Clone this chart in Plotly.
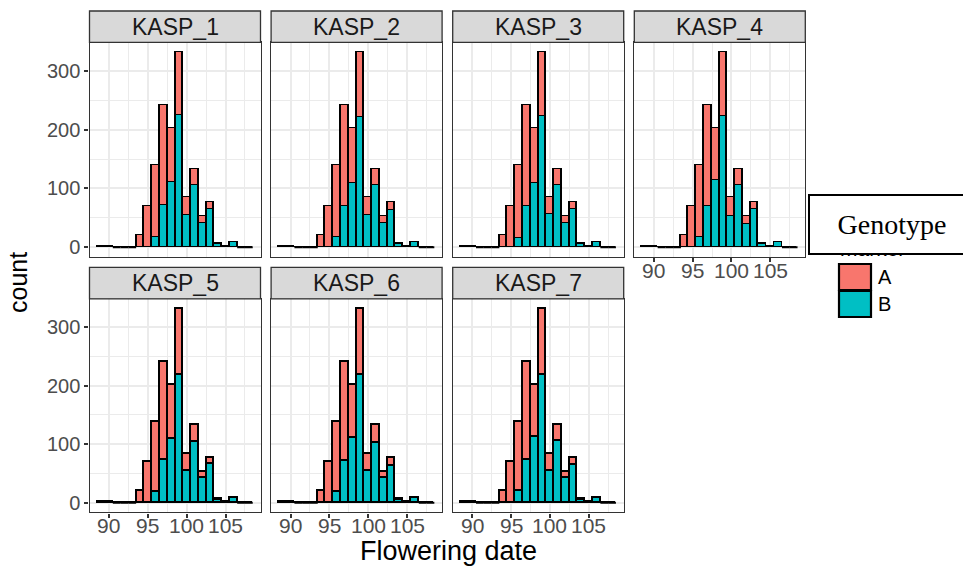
import plotly.graph_objects as go

# ---------------- data ----------------
panels = ["KASP_1", "KASP_2", "KASP_3", "KASP_4", "KASP_5", "KASP_6", "KASP_7"]
dates = [89, 90, 91, 92, 93, 94, 95, 96, 97, 98, 99, 100, 101, 102, 103, 104, 105, 106, 107, 108]
total = [1, 1, 0, 0, 0, 21, 70, 139, 241, 202, 331, 84, 133, 52, 77, 7, 2, 8, 0, 0]

kasp1_B = [0, 0, 0, 0, 0, 0, 0, 17, 71, 110, 224, 55, 106, 41, 65, 5, 1, 8, 0, 0]
kasp2_B = [0, 0, 0, 0, 0, 0, 0, 16, 69, 108, 221, 55, 106, 40, 62, 5, 1, 8, 0, 0]
kasp3_B = [0, 0, 0, 0, 0, 0, 0, 15, 70, 109, 222, 56, 106, 41, 64, 5, 1, 8, 0, 0]
kasp4_B = [0, 0, 0, 0, 0, 0, 0, 17, 69, 113, 223, 53, 106, 39, 64, 5, 1, 8, 0, 0]
kasp5_B = [0, 0, 0, 0, 0, 0, 0, 19, 73, 109, 218, 55, 104, 42, 67, 5, 1, 8, 0, 0]
kasp6_B = [0, 0, 0, 0, 0, 0, 0, 19, 72, 111, 219, 54, 103, 42, 63, 5, 1, 8, 0, 0]
kasp7_B = [0, 0, 0, 0, 0, 0, 0, 20, 73, 112, 219, 54, 105, 42, 64, 5, 1, 8, 0, 0]
B_series = [kasp1_B, kasp2_B, kasp3_B, kasp4_B, kasp5_B, kasp6_B, kasp7_B]

x_ticks = [90, 95, 100, 105]
y_ticks = [0, 100, 200, 300]
genotypes = ["A", "B"]

# ---------------- styling ----------------
W, H = 963, 567
COL_A = "#F8766D"
COL_B = "#00BFC4"
BORDER = "#333333"
GRID = "#EBEBEB"
TICKCOL = "#4D4D4D"
FONT = "Liberation Sans, Arial, sans-serif"


def fx(px):
    return px / W


def fy(py):
    return 1 - py / H


col_left = [89.5, 271.1, 452.7, 634.3]
col_w = 171.0
rows_plot = [(42.4, 257.0), (298.8, 512.4)]
rows_strip = [(11.0, 42.4), (267.4, 298.8)]

fig = go.Figure()
shapes = []
annotations = []
layout_axes = {}

for i, name in enumerate(panels):
    r, c = divmod(i, 4)
    k = "" if i == 0 else str(i + 1)
    B = B_series[i]
    A = [t - b for t, b in zip(total, B)]

    fig.add_trace(go.Bar(x=dates, y=B, width=1, marker=dict(color=COL_B, line=dict(color="black", width=1.8)),
                         xaxis="x" + k, yaxis="y" + k, name="B", showlegend=False))
    fig.add_trace(go.Bar(x=dates, y=A, width=1, marker=dict(color=COL_A, line=dict(color="black", width=1.8)),
                         xaxis="x" + k, yaxis="y" + k, name="A", showlegend=False))
    # zero-count bins drawn as flat outlines
    zx, zy = [], []
    for d, t in zip(dates, total):
        if t == 0:
            zx += [d - 0.5, d + 0.5, None]
            zy += [0, 0, None]
    fig.add_trace(go.Scatter(x=zx, y=zy, mode="lines", line=dict(color="black", width=2),
                             xaxis="x" + k, yaxis="y" + k, hoverinfo="skip", showlegend=False))

    x0, x1 = col_left[c], col_left[c] + col_w
    py0, py1 = rows_plot[r]
    show_x = (r == 1) or (i == 3)
    show_y = (c == 0)

    layout_axes["xaxis" + k] = dict(
        domain=[fx(x0), fx(x1)], range=[87.5, 109.5], anchor="y" + k,
        tickvals=x_ticks, showticklabels=False,
        ticks="outside" if show_x else "", ticklen=4,
        tickcolor=BORDER, tickwidth=1.6,
        showgrid=True, gridcolor=GRID, gridwidth=2,
        minor=dict(tickvals=[87.5, 92.5, 97.5, 102.5, 107.5], showgrid=True, gridcolor=GRID, gridwidth=1),
        zeroline=False, showline=True, mirror=True, linecolor=BORDER, linewidth=1.3,
        fixedrange=True,
    )
    layout_axes["yaxis" + k] = dict(
        domain=[fy(py1), fy(py0)], range=[-16.6, 348.6], anchor="x" + k,
        tickvals=y_ticks, ticktext=[str(v) for v in y_ticks],
        showticklabels=show_y, ticks="outside" if show_y else "", ticklen=4,
        tickcolor=BORDER, tickwidth=1.6,
        tickfont=dict(family=FONT, size=20, color=TICKCOL),
        showgrid=True, gridcolor=GRID, gridwidth=2,
        minor=dict(tickvals=[50, 150, 250], showgrid=True, gridcolor=GRID, gridwidth=1),
        zeroline=False, showline=True, mirror=True, linecolor=BORDER, linewidth=1.3,
        fixedrange=True,
    )

    # x tick labels placed on the axis scale (tight to the panel, as in the reference)
    if show_x:
        for v in x_ticks:
            annotations.append(dict(text=str(v), xref="x" + k, yref="paper", x=v, y=fy(py1 + 13),
                                    xanchor="center", yanchor="middle", showarrow=False,
                                    font=dict(family=FONT, size=21, color=TICKCOL)))

    sy0, sy1 = rows_strip[r]
    shapes.append(dict(type="rect", xref="paper", yref="paper", x0=fx(x0), x1=fx(x1), y0=fy(sy1), y1=fy(sy0),
                       fillcolor="#D9D9D9", line=dict(color=BORDER, width=1.3)))
    annotations.append(dict(text=name, xref="paper", yref="paper", x=fx((x0 + x1) / 2), y=fy((sy0 + sy1) / 2),
                            xanchor="center", yanchor="middle", showarrow=False,
                            font=dict(family=FONT, size=23, color="#1A1A1A")))

# axis titles
annotations.append(dict(text="Flowering date", xref="paper", yref="paper", x=fx(448), y=fy(551),
                        xanchor="center", yanchor="middle", showarrow=False,
                        font=dict(family=FONT, size=27, color="black")))
annotations.append(dict(text="count", xref="paper", yref="paper", x=fx(18), y=fy(283),
                        xanchor="center", yanchor="middle", showarrow=False, textangle=-90,
                        font=dict(family=FONT, size=25, color="black")))

# legend (hidden original title, overlay box, keys)
annotations.append(dict(text="marker", xref="paper", yref="paper", x=fx(838), y=fy(262),
                        xanchor="left", yanchor="bottom", showarrow=False,
                        font=dict(family=FONT, size=21, color="black")))
annotations.append(dict(text="Genotype", xref="paper", yref="paper", x=fx(808), y=fy(194),
                        xanchor="left", yanchor="top", showarrow=False, width=162, height=55,
                        align="center", valign="middle", bgcolor="white", bordercolor="black",
                        borderwidth=2, borderpad=1,
                        font=dict(family="Liberation Serif, Times New Roman, serif", size=28, color="black")))
key_cols = [COL_A, COL_B]
for j, g in enumerate(genotypes):
    ky0 = 264 + j * 27
    ky1 = ky0 + 26
    shapes.append(dict(type="rect", xref="paper", yref="paper", x0=fx(839), x1=fx(871), y0=fy(ky1), y1=fy(ky0),
                       fillcolor=key_cols[j], line=dict(color="black", width=2.2)))
    annotations.append(dict(text=g, xref="paper", yref="paper", x=fx(876), y=fy((ky0 + ky1) / 2),
                            xanchor="left", yanchor="middle", showarrow=False,
                            font=dict(family=FONT, size=20, color="black")))

fig.update_layout(
    width=W, height=H, margin=dict(l=0, r=0, t=0, b=0),
    paper_bgcolor="white", plot_bgcolor="white",
    barmode="stack", bargap=0, showlegend=False,
    shapes=shapes, annotations=annotations,
    **layout_axes,
)

fig.write_html("out.html")
